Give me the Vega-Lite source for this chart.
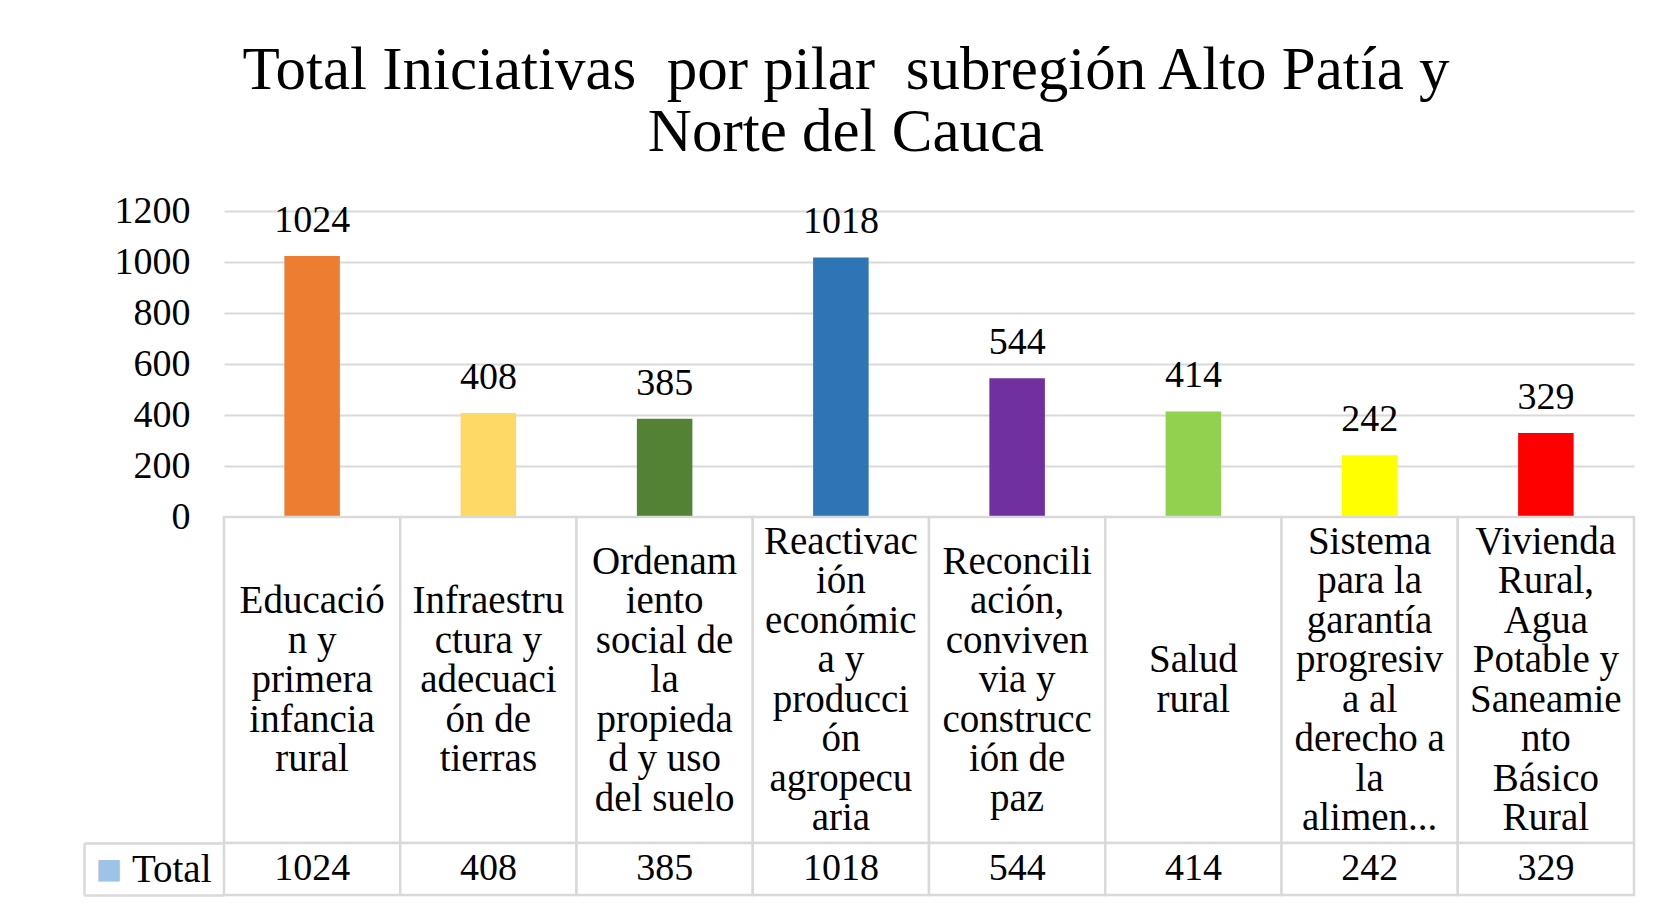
{
  "$schema": "https://vega.github.io/schema/vega-lite/v6.json",
  "padding": {"left": 82, "top": 40, "right": 30, "bottom": 8},
  "background": "#FFFFFF",
  "title": {
    "text": ["Total Iniciativas\u00a0 por pilar\u00a0 subregión Alto Patía y", "Norte del Cauca"],
    "font": "Liberation Serif",
    "fontSize": 61,
    "lineHeight": 62,
    "fontWeight": "normal",
    "color": "#000000",
    "anchor": "middle",
    "offset": 28,
    "dx": -13
  },
  "data": {
    "values": [
      {"pilar": "Educación y primera infancia rural", "etiqueta": "Educació\nn y\nprimera\ninfancia\nrural", "serie": "Total", "total": 1024},
      {"pilar": "Infraestructura y adecuación de tierras", "etiqueta": "Infraestru\nctura y\nadecuaci\nón de\ntierras", "serie": "Total", "total": 408},
      {"pilar": "Ordenamiento social de la propiedad y uso del suelo", "etiqueta": "Ordenam\niento\nsocial de\nla\npropieda\nd y uso\ndel suelo", "serie": "Total", "total": 385},
      {"pilar": "Reactivación económica y producción agropecuaria", "etiqueta": "Reactivac\nión\neconómic\na y\nproducci\nón\nagropecu\naria", "serie": "Total", "total": 1018},
      {"pilar": "Reconciliación, convivencia y construcción de paz", "etiqueta": "Reconcili\nación,\nconviven\nvia y\nconstrucc\nión de\npaz", "serie": "Total", "total": 544},
      {"pilar": "Salud rural", "etiqueta": "Salud\nrural", "serie": "Total", "total": 414},
      {"pilar": "Sistema para la garantía progresiva al derecho a la alimentación", "etiqueta": "Sistema\npara la\ngarantía\nprogresiv\na al\nderecho a\nla\nalimen...", "serie": "Total", "total": 242},
      {"pilar": "Vivienda Rural, Agua Potable y Saneamiento Básico Rural", "etiqueta": "Vivienda\nRural,\nAgua\nPotable y\nSaneamie\nnto\nBásico\nRural", "serie": "Total", "total": 329}
    ]
  },
  "spacing": 0,
  "bounds": "flush",
  "vconcat": [
    {
      "width": 1410,
      "height": 306,
      "layer": [
        {
          "mark": {"type": "bar", "width": {"band": 0.315}},
          "encoding": {
            "x": {"field": "pilar", "type": "nominal", "sort": null, "axis": null, "scale": {"paddingInner": 0, "paddingOuter": 0}},
            "y": {
              "field": "total", "type": "quantitative",
              "scale": {"domain": [0, 1200], "nice": false, "zero": true},
              "axis": {
                "values": [0, 200, 400, 600, 800, 1000, 1200],
                "format": "d",
                "grid": true, "gridColor": "#D9D9D9", "gridWidth": 2,
                "domain": false, "ticks": false, "tickSize": 0,
                "labelPadding": 34,
                "labelFont": "Liberation Serif", "labelFontSize": 38, "labelColor": "#000000",
                "title": null
              }
            },
            "color": {
              "field": "pilar", "type": "nominal", "sort": null, "legend": null,
              "scale": {
                "domain": [
                  "Educación y primera infancia rural",
                  "Infraestructura y adecuación de tierras",
                  "Ordenamiento social de la propiedad y uso del suelo",
                  "Reactivación económica y producción agropecuaria",
                  "Reconciliación, convivencia y construcción de paz",
                  "Salud rural",
                  "Sistema para la garantía progresiva al derecho a la alimentación",
                  "Vivienda Rural, Agua Potable y Saneamiento Básico Rural"
                ],
                "range": ["#ED7D31", "#FFD966", "#548235", "#2E75B6", "#7030A0", "#92D050", "#FFFF00", "#FF0000"]
              }
            }
          }
        },
        {
          "mark": {"type": "text", "baseline": "alphabetic", "dy": -24, "font": "Liberation Serif", "fontSize": 38, "color": "#000000"},
          "encoding": {
            "x": {"field": "pilar", "type": "nominal", "sort": null},
            "y": {"field": "total", "type": "quantitative"},
            "text": {"field": "total", "type": "quantitative", "format": "d"}
          }
        }
      ]
    },
    {
      "width": 1410,
      "height": 326,
      "layer": [
        {
          "mark": {"type": "rect", "fill": "#FFFFFF", "stroke": "#D9D9D9", "strokeWidth": 2.5},
          "encoding": {
            "x": {"field": "pilar", "type": "nominal", "sort": null, "axis": null, "scale": {"paddingInner": 0, "paddingOuter": 0}}
          }
        },
        {
          "transform": [{"filter": "length(split(datum.etiqueta, '\\n')) == 2"}],
          "mark": {"type": "text", "lineBreak": "\n", "baseline": "middle", "align": "center", "dy": -19.75, "font": "Liberation Serif", "fontSize": 39, "lineHeight": 39.5, "color": "#000000"},
          "encoding": {
            "x": {"field": "pilar", "type": "nominal", "sort": null},
            "text": {"field": "etiqueta", "type": "nominal"}
          }
        },
        {
          "transform": [{"filter": "length(split(datum.etiqueta, '\\n')) == 5"}],
          "mark": {"type": "text", "lineBreak": "\n", "baseline": "middle", "align": "center", "dy": -79, "font": "Liberation Serif", "fontSize": 39, "lineHeight": 39.5, "color": "#000000"},
          "encoding": {
            "x": {"field": "pilar", "type": "nominal", "sort": null},
            "text": {"field": "etiqueta", "type": "nominal"}
          }
        },
        {
          "transform": [{"filter": "length(split(datum.etiqueta, '\\n')) == 7"}],
          "mark": {"type": "text", "lineBreak": "\n", "baseline": "middle", "align": "center", "dy": -118.5, "font": "Liberation Serif", "fontSize": 39, "lineHeight": 39.5, "color": "#000000"},
          "encoding": {
            "x": {"field": "pilar", "type": "nominal", "sort": null},
            "text": {"field": "etiqueta", "type": "nominal"}
          }
        },
        {
          "transform": [{"filter": "length(split(datum.etiqueta, '\\n')) == 8"}],
          "mark": {"type": "text", "lineBreak": "\n", "baseline": "middle", "align": "center", "dy": -138.25, "font": "Liberation Serif", "fontSize": 39, "lineHeight": 39.5, "color": "#000000"},
          "encoding": {
            "x": {"field": "pilar", "type": "nominal", "sort": null},
            "text": {"field": "etiqueta", "type": "nominal"}
          }
        }
      ]
    },
    {
      "width": 1410,
      "height": 52,
      "layer": [
        {
          "mark": {"type": "rect", "fill": "#FFFFFF", "stroke": "#D9D9D9", "strokeWidth": 2.5},
          "encoding": {
            "x": {"field": "pilar", "type": "nominal", "sort": null, "axis": null, "scale": {"paddingInner": 0, "paddingOuter": 0}},
            "y": {
              "field": "serie", "type": "nominal",
              "scale": {"paddingInner": 0, "paddingOuter": 0},
              "axis": {
                "orient": "left", "offset": 140,
                "domain": true, "domainColor": "#D9D9D9", "domainWidth": 2.5,
                "ticks": true, "tickBand": "extent", "tickSize": -140, "tickColor": "#D9D9D9", "tickWidth": 2.5,
                "labelPadding": 13, "labelAlign": "right", "labelBaseline": "middle",
                "labelFont": "Liberation Serif", "labelFontSize": 39, "labelColor": "#000000",
                "title": "■", "titleColor": "#9DC3E6", "titleFont": "DejaVu Sans", "titleFontSize": 28,
                "titleFontWeight": "normal",
                "titleAngle": 0, "titleAlign": "right", "titleBaseline": "middle", "titlePadding": -39
              }
            }
          }
        },
        {
          "mark": {"type": "text", "baseline": "middle", "align": "center", "font": "Liberation Serif", "fontSize": 38, "color": "#000000"},
          "encoding": {
            "x": {"field": "pilar", "type": "nominal", "sort": null},
            "y": {"field": "serie", "type": "nominal"},
            "text": {"field": "total", "type": "quantitative", "format": "d"}
          }
        }
      ]
    }
  ],
  "config": {"view": {"stroke": null}, "font": "Liberation Serif"}
}
